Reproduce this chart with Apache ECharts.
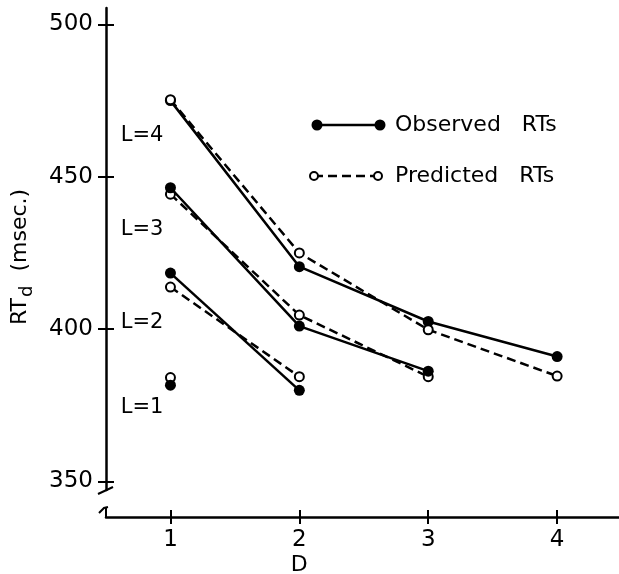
<!DOCTYPE html>
<html>
<head>
<meta charset="utf-8">
<script src="https://cdn.jsdelivr.net/npm/echarts@6/dist/echarts.min.js"></script>
<style>
html,body{margin:0;padding:0;background:#fff;}
#main{width:619px;height:574px;}
</style>
</head>
<body>
<div id="main"></div>
<script>
// ---- data ----
const dValues = [1, 2, 3, 4];
const yTicks = [350, 400, 450, 500];
const xTicks = [1, 2, 3, 4];

const obsL4 = [475, 420.5, 402.5, 391];
const predL4 = [475.3, 425, 399.8, 384.6];
const obsL3 = [446.4, 401, 386.2];
const predL3 = [444.3, 404.6, 384.4];
const obsL2 = [418.4, 379.9];
const predL2 = [413.8, 384.4];
const obsL1 = [381.6];
const predL1 = [384.1];

const groupLabels = ['L=4', 'L=3', 'L=2', 'L=1'];
const groupLabelY = [463.7, 432.6, 402.3, 374.1];
const groupLabelX = 0.61;

const legendNames = ['Observed   RTs', 'Predicted   RTs'];
const xName = 'D';

const FONT = 'DejaVu Sans';

function pts(vals) { return vals.map((v, i) => [dValues[i], v]); }

function obsSeries(vals) {
  return {
    type: 'line', data: pts(vals), symbol: 'circle', symbolSize: 11,
    itemStyle: { color: '#000' },
    lineStyle: { color: '#000', width: 2.5 },
    z: 4, animation: false, silent: true
  };
}
function predSeries(vals, z) {
  return {
    type: 'line', data: pts(vals), symbol: 'circle', symbolSize: 9,
    itemStyle: { color: '#fff', borderColor: '#000', borderWidth: 2 },
    lineStyle: { color: '#000', width: 2.5, type: [9, 5] },
    z: z || 3, animation: false, silent: true
  };
}

const chart = echarts.init(document.getElementById('main'), null, { renderer: 'canvas' });

const axisFont = { fontFamily: FONT, fontSize: 23, color: '#000' };

const option = {
  backgroundColor: '#fff',
  animation: false,
  grid: { left: 106, right: 0, top: 8, bottom: 84, containLabel: false },
  xAxis: [
    {
      type: 'value', min: 0.5, max: 4.48, offset: 27,
      axisLine: { show: true, lineStyle: { color: '#000', width: 2.5 } },
      axisTick: { show: true, length: 7, lineStyle: { color: '#000', width: 2 }, customValues: xTicks },
      axisLabel: Object.assign({ margin: 12, customValues: xTicks, formatter: v => String(v) }, axisFont),
      splitLine: { show: false }
    },
    {
      type: 'value', min: 0.5, max: 4.48, offset: 27, position: 'bottom',
      axisLine: { show: false },
      axisTick: { show: true, inside: true, length: 7, lineStyle: { color: '#000', width: 2 }, customValues: xTicks },
      axisLabel: { show: false },
      splitLine: { show: false }
    }
  ],
  yAxis: [
    {
      type: 'value', min: 347.2, max: 505.4,
      axisLine: { show: true, lineStyle: { color: '#000', width: 2.5 } },
      axisTick: { show: true, length: 8, lineStyle: { color: '#000', width: 2 }, customValues: yTicks },
      axisLabel: Object.assign({ margin: 13, customValues: yTicks, formatter: v => String(v) }, axisFont),
      splitLine: { show: false },
      name: '{m|RT}{s|d}{m|  (msec.)}',
      nameLocation: 'middle', nameRotate: 90, nameGap: 70,
      nameTextStyle: {
        color: '#000', fontFamily: FONT, padding: [0, 16, 0, 0],
        rich: {
          m: { fontFamily: FONT, fontSize: 22, color: '#000', verticalAlign: 'top', lineHeight: 27 },
          s: { fontFamily: FONT, fontSize: 18, color: '#000', verticalAlign: 'top', padding: [9, 0, 0, 1], lineHeight: 27 }
        }
      }
    },
    {
      type: 'value', min: 347.2, max: 505.4, position: 'left',
      axisLine: { show: false },
      axisTick: { show: true, inside: true, length: 8, lineStyle: { color: '#000', width: 2 }, customValues: yTicks },
      axisLabel: { show: false },
      splitLine: { show: false }
    }
  ],
  series: [
    obsSeries(obsL4), predSeries(predL4, 5),
    obsSeries(obsL3), predSeries(predL3),
    obsSeries(obsL2), predSeries(predL2),
    obsSeries(obsL1), predSeries(predL1),
    {
      type: 'scatter', symbol: 'circle', symbolSize: 1, silent: true, animation: false,
      itemStyle: { color: 'rgba(0,0,0,0)', opacity: 1 },
      data: groupLabels.map((t, i) => [groupLabelX, groupLabelY[i], t]),
      label: {
        show: true, position: 'right', distance: 0, opacity: 1,
        formatter: p => p.value[2],
        fontFamily: FONT, fontSize: 21, color: '#000', textBorderWidth: 0
      }
    }
  ]
};
chart.setOption(option);

// decorations: legend, axis break marks, x-axis name
const yAxisX = chart.convertToPixel({ xAxisIndex: 0 }, 0.5);
const gridBottom = chart.convertToPixel({ yAxisIndex: 0 }, 347.2);
const xAxisY = gridBottom + 27;
const xNameX = chart.convertToPixel({ xAxisIndex: 0 }, 2);

const lg = [
  { y: 125, filled: true, name: legendNames[0] },
  { y: 176, filled: false, name: legendNames[1] }
];
const graphics = [];
lg.forEach(r => {
  const x1 = r.filled ? 317 : 314, x2 = r.filled ? 380 : 378;
  graphics.push({
    type: 'line', shape: { x1: x1, y1: r.y, x2: x2, y2: r.y },
    style: { stroke: '#000', lineWidth: 2.5, lineDash: r.filled ? null : [9, 5] }
  });
  [x1, x2].forEach(cx => graphics.push({
    type: 'circle', shape: { cx: cx, cy: r.y, r: r.filled ? 5.5 : 4 },
    style: r.filled ? { fill: '#000' } : { fill: '#fff', stroke: '#000', lineWidth: 2 },
    z: 10
  }));
  graphics.push({
    type: 'text', x: 395, y: r.y,
    style: { text: r.name, fontFamily: FONT, fontSize: 22, fill: '#000', verticalAlign: 'middle', align: 'left' }
  });
});
// y-axis break slash
graphics.push({
  type: 'line', shape: { x1: yAxisX - 8, y1: gridBottom + 4, x2: yAxisX + 7, y2: gridBottom - 3 },
  style: { stroke: '#000', lineWidth: 2 }
});
// x-axis start hook
graphics.push({
  type: 'polyline', shape: { points: [[yAxisX - 7, xAxisY - 4], [yAxisX - 2, xAxisY - 9], [yAxisX + 2, xAxisY - 10]] },
  style: { stroke: '#000', lineWidth: 2, fill: null }
});
graphics.push({
  type: 'line', shape: { x1: yAxisX, y1: xAxisY - 9, x2: yAxisX, y2: xAxisY },
  style: { stroke: '#000', lineWidth: 2 }
});
// x-axis name
graphics.push({
  type: 'text', x: xNameX, y: 565,
  style: { text: xName, fontFamily: FONT, fontSize: 22, fill: '#000', align: 'center', verticalAlign: 'middle' }
});
chart.setOption({ graphic: { elements: graphics } });
</script>
</body>
</html>
